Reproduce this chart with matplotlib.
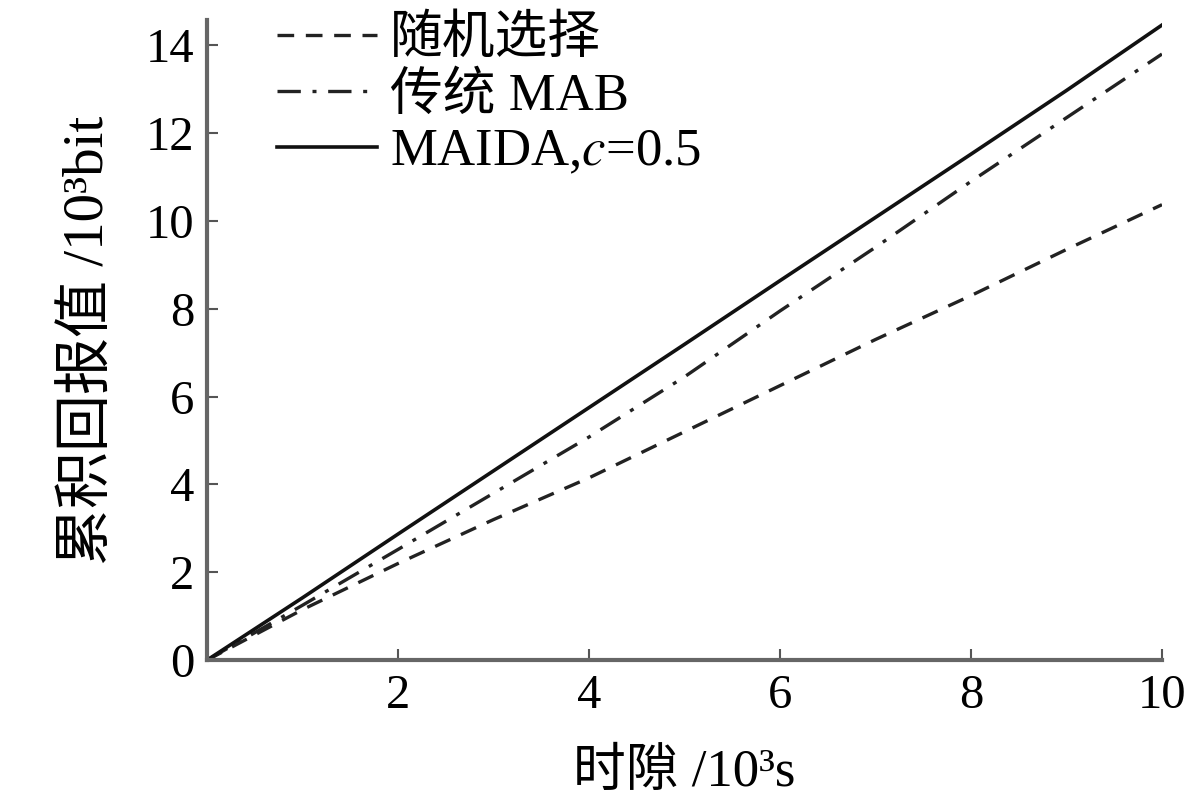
import numpy as np
import matplotlib
matplotlib.use('Agg')
import matplotlib.pyplot as plt

plt.rcParams['font.family'] = ['Liberation Serif', 'Noto Sans CJK SC', 'DejaVu Sans']
plt.rcParams['mathtext.fontset'] = 'stix'

# 时隙 (10^3 s)
tempo = [0, 1, 2, 3, 4, 5, 6, 7, 8, 9, 10]
# 累积回报值 (10^3 bit)
aleatorio = [0, 1.15, 2.2, 3.2, 4.15, 5.2, 6.25, 7.3, 8.3, 9.35, 10.37]
mab = [0, 1.25, 2.52, 3.8, 5.08, 6.45, 7.95, 9.4, 10.9, 12.35, 13.8]
maida = [0, 1.42, 2.87, 4.31, 5.75, 7.19, 8.64, 10.08, 11.52, 12.97, 14.46]

rotulos = ['随机选择', '传统 MAB', 'MAIDA,$c$=0.5']
xticks = [2, 4, 6, 8, 10]
yticks = [0, 2, 4, 6, 8, 10, 12, 14]

fig = plt.figure(figsize=(12, 8.09), dpi=100)
ax = fig.add_axes([0.1725, 0.184, 0.7958, 0.791])

ax.plot(tempo, aleatorio, color='#222222', lw=2.4, dashes=(5, 3.5), label=rotulos[0])
ax.plot(tempo, mab, color='#222222', lw=2.4, dashes=(7, 3.5, 1.2, 3.5), label=rotulos[1])
ax.plot(tempo, maida, color='#111111', lw=2.6, label=rotulos[2])

ax.set_xlim(0, 10)
ax.set_ylim(0, 14.57)
ax.set_xticks(xticks)
ax.set_yticks(yticks)
ax.tick_params(direction='in', length=8, width=1.5, labelsize=35, color='#555555')
ax.tick_params(axis='y', pad=9)
ax.tick_params(axis='x', pad=10)
for lado in ['top', 'right']:
    ax.spines[lado].set_visible(False)
for lado in ['left', 'bottom']:
    ax.spines[lado].set_color('#666666')
    ax.spines[lado].set_linewidth(3)

ax.set_xlabel('时隙 /10³s', fontsize=38, labelpad=22)
ax.set_ylabel('累积回报值 /10³bit', fontsize=41, labelpad=22)

ax.legend(loc='upper left', bbox_to_anchor=(0.051, 1.04), frameon=False, fontsize=38,
          handlelength=1.9, handletextpad=0.25, labelspacing=0.15, borderaxespad=0)

fig.savefig('out.png', dpi=100)
